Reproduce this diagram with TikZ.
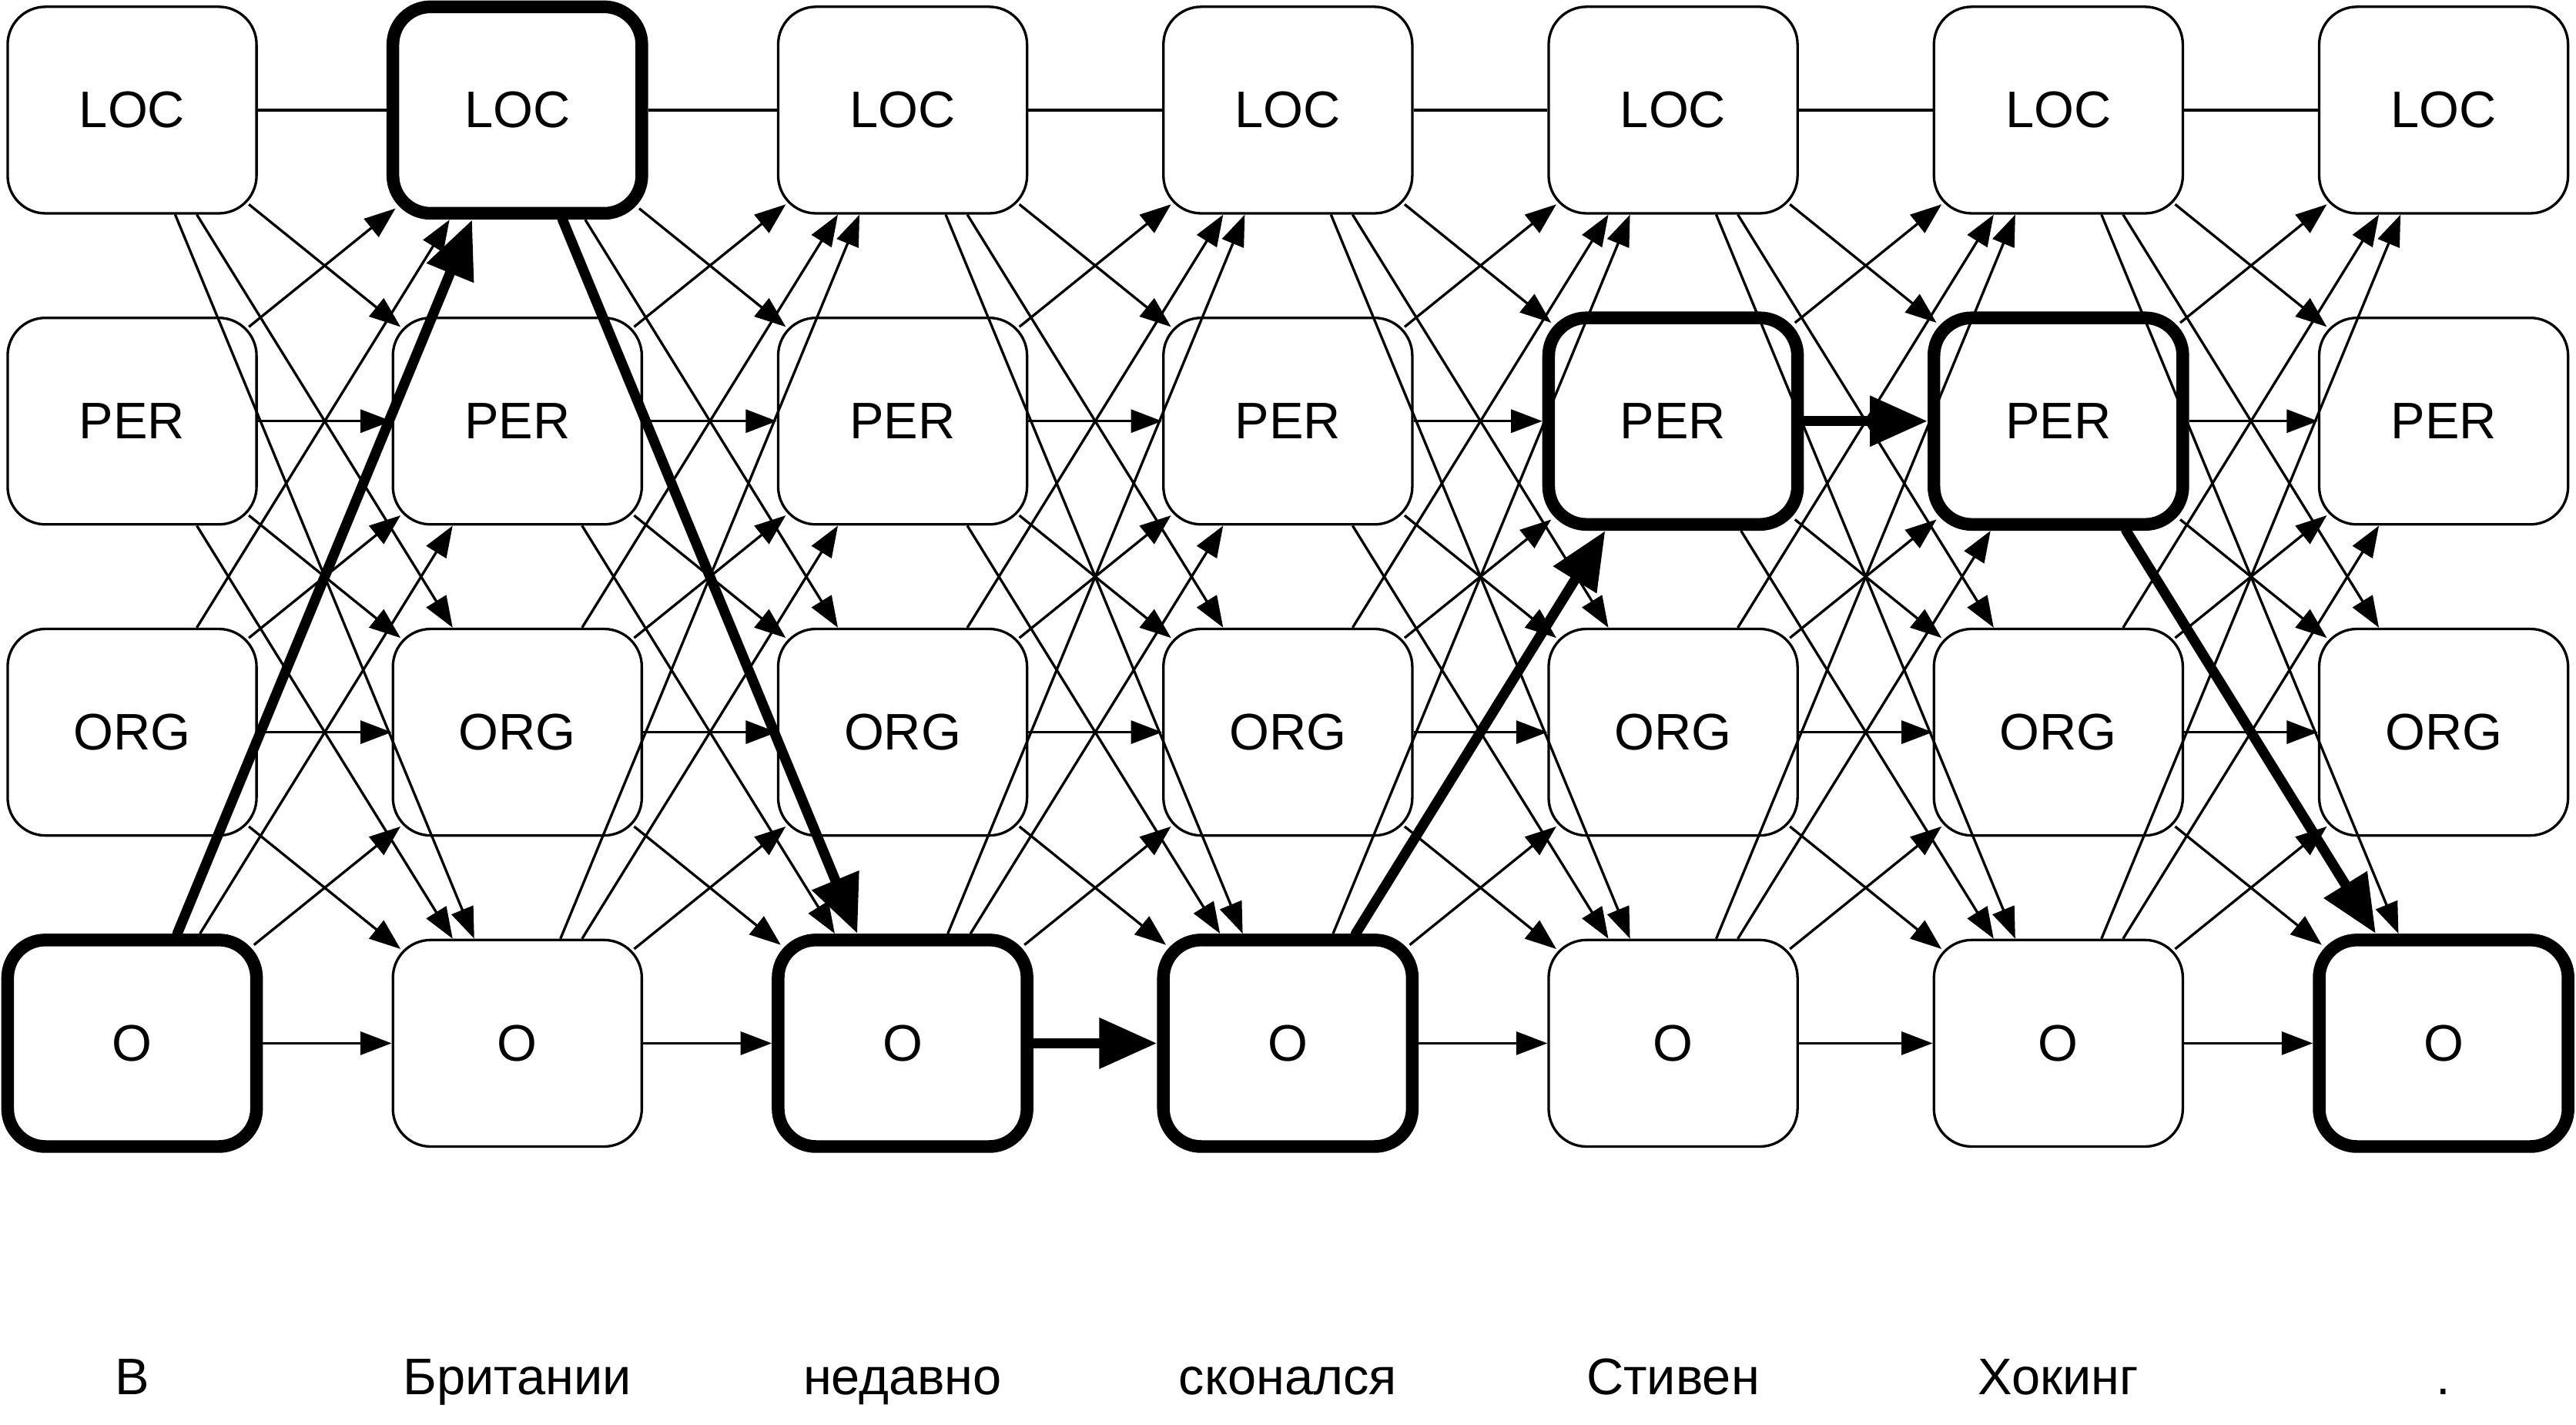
\documentclass[tikz,border=0pt]{standalone}
\usepackage{fontspec}
\setmainfont{Liberation Sans}
\usepackage{tikz}
\usetikzlibrary{arrows.meta}
\tikzset{
  >={Triangle[length=5.4pt,width=4pt]},
  tag/.style={draw,line width=0.44pt,rounded corners=2.3mm,minimum width=15.15mm,minimum height=12.57mm,inner sep=0pt,font=\fontsize{8.9}{10}\selectfont},
  besttag/.style={tag,line width=2.2pt},
  link/.style={->,line width=0.44pt},
  nearlink/.style={link,shorten <=-0.7mm,shorten >=-0.7mm},
  flat/.style={line width=0.44pt},
  bestlink/.style={-{Triangle[length=10pt,width=8.4pt]},line width=1.75pt,line cap=round},
  word/.style={anchor=base,font=\fontsize{8.9}{10}\selectfont},
}
\def\bestrow{{3,0,3,3,1,1,3}}

\begin{document}
\begin{tikzpicture}
  \useasboundingbox (-0.804,0.67) rectangle (14.876,-8.0);
  % lattice of tags
  \foreach \c in {0,...,6} {
    \pgfmathtruncatemacro{\br}{\bestrow[\c]}
    \foreach \t [count=\r from 0] in {LOC,PER,ORG,O} {
      \ifnum\r=\br
        \node[besttag] (n\c\r) at (\c*2.345,-\r*1.893) {\t};
      \else
        \node[tag] (n\c\r) at (\c*2.345,-\r*1.893) {\t};
      \fi
    }
  }
  % all transitions between neighbouring columns
  \foreach \c in {0,...,5} {
    \pgfmathtruncatemacro{\nx}{\c+1}
    \pgfmathtruncatemacro{\ba}{\bestrow[\c]}
    \pgfmathtruncatemacro{\bb}{\bestrow[\nx]}
    \foreach \r in {0,...,3} {
      \foreach \s in {0,...,3} {
        \pgfmathtruncatemacro{\onpath}{and(\r==\ba,\s==\bb)}
        \pgfmathtruncatemacro{\gap}{abs(\r-\s)}
        \ifnum\onpath=0
          \ifnum\numexpr\r+\s\relax=0
            \draw[flat] (n\c\r) -- (n\nx\s);
          \else\ifnum\gap=1
            \draw[nearlink] (n\c\r) -- (n\nx\s);
          \else
            \draw[link] (n\c\r) -- (n\nx\s);
          \fi\fi
        \fi
      }
    }
  }
  % best path
  \foreach \a/\b in {n03/n10,n10/n23,n23/n33,n33/n41,n41/n51,n51/n63}
    \draw[bestlink] (\a) -- (\b);
  \foreach \w [count=\c from 0] in {В,Британии,недавно,сконался,Стивен,Хокинг,.}
    \node[word] (w\c) at (\c*2.345,-7.816) {\w};
\end{tikzpicture}
\end{document}
